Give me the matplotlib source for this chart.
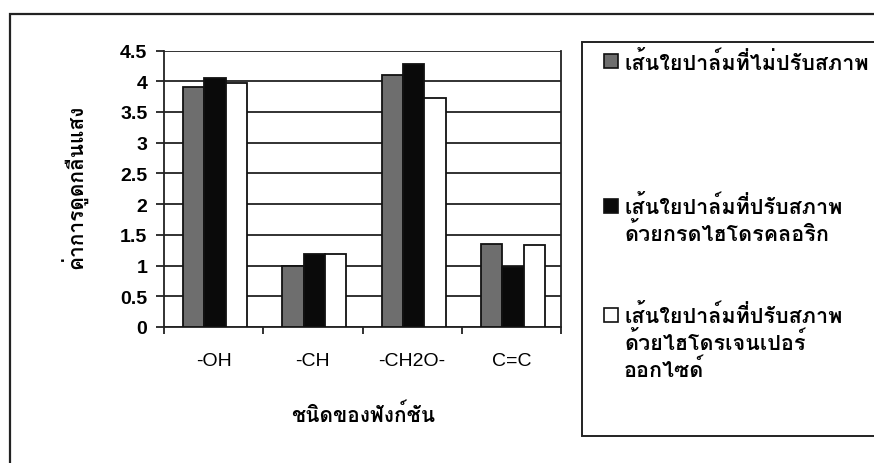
import matplotlib
matplotlib.use("Agg")
import matplotlib.pyplot as plt
from matplotlib import font_manager
from matplotlib.patches import Rectangle
import numpy as np

# ---- data ----
categories = ["-OH", "-CH", "-CH2O-", "C=C"]
untreated = [3.91, 0.99, 4.10, 1.35]
hcl_treated = [4.06, 1.19, 4.28, 0.98]
h2o2_treated = [3.97, 1.19, 3.73, 1.33]
series_labels = [
    "เส้นใยปาล์มที่ไม่ปรับสภาพ",
    "เส้นใยปาล์มที่ปรับสภาพ\nด้วยกรดไฮโดรคลอริก",
    "เส้นใยปาล์มที่ปรับสภาพ\nด้วยไฮโดรเจนเปอร์\nออกไซด์",
]
y_ticks = [0, 0.5, 1, 1.5, 2, 2.5, 3, 3.5, 4, 4.5]
y_title = "ค่าการดูดกลืนแสง"
x_title = "ชนิดของฟังก์ชัน"


def thai_family():
    """Pick an installed font that has Thai glyphs, if any."""
    try:
        from fontTools.ttLib import TTFont
    except Exception:
        return None
    seen = set()
    for fe in font_manager.fontManager.ttflist:
        if fe.name in seen:
            continue
        try:
            tt = TTFont(fe.fname, fontNumber=0, lazy=True)
            cmap = tt.getBestCmap() or {}
            if 0x0E01 in cmap and 0x0E2A in cmap:
                return fe.name
        except Exception:
            pass
        seen.add(fe.name)
    return None


tf = thai_family()
thai_fam = [tf, "DejaVu Sans"] if tf else ["DejaVu Sans"]
latin_fam = ["Liberation Sans", "DejaVu Sans"]

W, H = 874, 464
fig = plt.figure(figsize=(W / 100, H / 100), dpi=100)
fig.patch.set_facecolor("white")


def fx(px):
    return px / W


def fy(py):
    return 1 - py / H


# outer chart frame (runs past the right and bottom edges)
fig.patches.append(Rectangle((fx(10), fy(520)), fx(950) - fx(10), fy(15) - fy(520),
                             transform=fig.transFigure, fill=False,
                             edgecolor="#222222", linewidth=1.6))

ax_l, ax_r, ax_t, ax_b = 164, 561, 51.5, 328
ax = fig.add_axes([fx(ax_l), fy(ax_b), fx(ax_r) - fx(ax_l), fy(ax_t) - fy(ax_b)])

x = np.arange(len(categories))
bw = 0.215
colors = ["#6e6e6e", "#0a0a0a", "#ffffff"]
for i, (vals, c) in enumerate(zip([untreated, hcl_treated, h2o2_treated], colors)):
    ax.bar(x + (i - 1) * bw + 0.015, vals, width=bw, color=c,
           edgecolor="#111111", linewidth=1.3, zorder=3)

ax.set_xlim(-0.5, len(categories) - 0.5)
ax.set_ylim(0, 4.5)
ax.set_yticks(y_ticks)
ax.set_yticklabels([f"{t:g}" for t in y_ticks], family=latin_fam,
                   fontsize=14, fontweight="bold")
ax.yaxis.grid(True, color="#222222", linewidth=1.3, zorder=0)
ax.set_axisbelow(True)
ax.tick_params(axis="y", direction="out", length=6, width=1.3, pad=6, color="#222222")

ax.set_xticks(x)
ax.set_xticklabels(categories, family=latin_fam, fontsize=14)
ax.set_xticks(np.arange(len(categories) + 1) - 0.5, minor=True)
ax.tick_params(axis="x", which="major", length=0, pad=18)
ax.tick_params(axis="x", which="minor", direction="out", length=5, width=1.3, color="#222222")

for s in ax.spines.values():
    s.set_color("#222222")
    s.set_linewidth(1.3)
ax.spines["top"].set_visible(False)

fig.text(fx(75), fy(187), y_title, rotation=90, ha="center", va="center",
         family=thai_fam, fontsize=15, fontweight="bold")
fig.text(fx(363), fy(415), x_title, ha="center", va="center",
         family=thai_fam, fontsize=15, fontweight="bold")

# legend box (runs past the right edge)
fig.patches.append(Rectangle((fx(582), fy(437)), fx(950) - fx(582), fy(43) - fy(437),
                             transform=fig.transFigure, fill=True, facecolor="white",
                             edgecolor="#222222", linewidth=1.4))
entry_y = [62, 207, 316]
line_gap = 27
for lab, c, ey in zip(series_labels, colors, entry_y):
    fig.patches.append(Rectangle((fx(604), fy(ey + 7)), fx(618) - fx(604), fy(ey - 7) - fy(ey + 7),
                                 transform=fig.transFigure, facecolor=c,
                                 edgecolor="#111111", linewidth=1.2))
    for k, line in enumerate(lab.split("\n")):
        fig.text(fx(624), fy(ey + k * line_gap), line, ha="left", va="center",
                 family=thai_fam, fontsize=15.5, fontweight="bold")

fig.savefig("out.png", dpi=100)
